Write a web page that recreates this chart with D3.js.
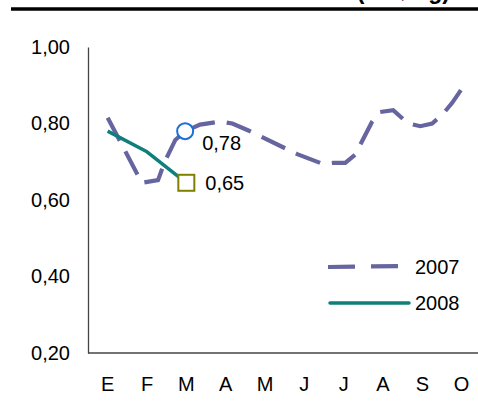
<!DOCTYPE html>
<html>
<head>
<meta charset="utf-8">
<script src="https://cdn.jsdelivr.net/npm/d3@7"></script>
<style>
  html, body { margin: 0; padding: 0; background: #fff; }
  svg { display: block; font-family: "Liberation Sans", Arial, sans-serif; }
</style>
</head>
<body>
<svg id="chart" width="478" height="409"></svg>
<script>
// ---- data ----
const titleText = "Precio internacional medio (US$/kg)";
const months = ["E", "F", "M", "A", "M ", "J", "J ", "A ", "S", "O"];
const monthLabels = ["E", "F", "M", "A", "M", "J", "J", "A", "S", "O"];
const yTicks = [0.2, 0.4, 0.6, 0.8, 1.0];
const seriesNames = ["2007", "2008"];
// 2007: position in months (0 = E) and value
const pos2007 = [0, 0.87, 1.28, 1.45, 1.72, 1.97, 2.35, 2.86, 3.17, 3.55, 4.82, 5.48, 5.73, 6.04, 6.29, 6.72, 6.93, 7.26, 7.64, 7.95, 8.25, 8.5, 8.76, 9.0];
const val2007 = [0.815, 0.645, 0.652, 0.70, 0.757, 0.78, 0.797, 0.805, 0.80, 0.783, 0.72, 0.694, 0.697, 0.697, 0.718, 0.804, 0.83, 0.835, 0.80, 0.793, 0.80, 0.822, 0.854, 0.89];
// 2008 monthly
const pos2008 = [0, 1, 2];
const val2008 = [0.78, 0.726, 0.645];
// highlighted March values
const markPos = [1.97, 2];
const markVal = [0.78, 0.645];
const markLabels = ["0,78", "0,65"];

// ---- drawing ----
const svg = d3.select("#chart");
const c2007 = "#67659f", c2008 = "#0f7f7c";

const xBand = d3.scaleBand().domain(months).range([88, 481.3]);
const bw = xBand.bandwidth();
const x = d3.scaleLinear().domain([0, 9])
  .range([xBand(months[0]) + bw / 2, xBand(months[9]) + bw / 2]);
const y = d3.scaleLinear().domain([0.2, 1.0]).range([353, 47]);

// title (mostly outside the visible area, as in the reference) and rule
svg.append("text").attr("x", 450).attr("y", -1.2)
  .attr("text-anchor", "end").attr("font-weight", "bold").attr("font-size", 23)
  .text(titleText);
svg.append("line").attr("x1", 11).attr("x2", 478).attr("y1", 9).attr("y2", 9)
  .attr("stroke", "#000").attr("stroke-width", 3.5);

// axes
const yAxis = d3.axisLeft(y).tickValues(yTicks).tickSize(0).tickPadding(18)
  .tickFormat(d => d3.format(".2f")(d).replace(".", ","));
const gy = svg.append("g").attr("transform", "translate(88,0)").call(yAxis);
gy.select(".domain").attr("stroke", "#444").attr("stroke-width", 1.3);
gy.selectAll("text").attr("font-size", 20).attr("fill", "#000")
  .attr("font-family", "Liberation Sans, Arial, sans-serif");

const xAxis = d3.axisBottom(xBand).tickSize(0).tickSizeOuter(0).tickPadding(24)
  .tickFormat((d, i) => monthLabels[i]);
const gx = svg.append("g").attr("transform", "translate(0,353)").call(xAxis);
gx.select(".domain").attr("stroke", "#444").attr("stroke-width", 1.3)
  .attr("d", "M88,0H478");
gx.selectAll("text").attr("font-size", 20).attr("fill", "#000")
  .attr("font-family", "Liberation Sans, Arial, sans-serif");

// lines
const line = d3.line().x(d => x(d[0])).y(d => y(d[1]));
const d2007 = pos2007.map((p, i) => [p, val2007[i]]);
const d2008 = pos2008.map((p, i) => [p, val2008[i]]);

svg.append("path").datum(d2007).attr("d", line)
  .attr("fill", "none").attr("stroke", c2007).attr("stroke-width", 4.2)
  .attr("stroke-dasharray", "26,12");
svg.append("path").datum(d2008).attr("d", line)
  .attr("fill", "none").attr("stroke", c2008).attr("stroke-width", 3.5)
  .attr("stroke-linejoin", "round");

// markers
svg.append("circle").attr("cx", x(markPos[0])).attr("cy", y(markVal[0])).attr("r", 8)
  .attr("fill", "#fff").attr("stroke", "#1a6fd6").attr("stroke-width", 2);
svg.append("rect").attr("x", x(markPos[1]) - 8).attr("y", y(markVal[1]) - 8)
  .attr("width", 16).attr("height", 16)
  .attr("fill", "#fff").attr("stroke", "#808000").attr("stroke-width", 2);

svg.append("text").attr("x", x(markPos[0]) + 17).attr("y", y(markVal[0]) + 19)
  .attr("font-size", 20).text(markLabels[0]);
svg.append("text").attr("x", x(markPos[1]) + 19).attr("y", y(markVal[1]) + 7)
  .attr("font-size", 20).text(markLabels[1]);

// legend
const legY = [267, 303];
svg.append("line").attr("x1", 328).attr("x2", 400).attr("y1", legY[0]).attr("y2", legY[0] - 1)
  .attr("stroke", c2007).attr("stroke-width", 4.2).attr("stroke-dasharray", "27,16");
svg.append("line").attr("x1", 330).attr("x2", 409).attr("y1", legY[1]).attr("y2", legY[1])
  .attr("stroke", c2008).attr("stroke-width", 3.5).attr("stroke-linecap", "round");
seriesNames.forEach((n, i) => {
  svg.append("text").attr("x", 415).attr("y", legY[i] + 7).attr("font-size", 20).text(n);
});
</script>
</body>
</html>
